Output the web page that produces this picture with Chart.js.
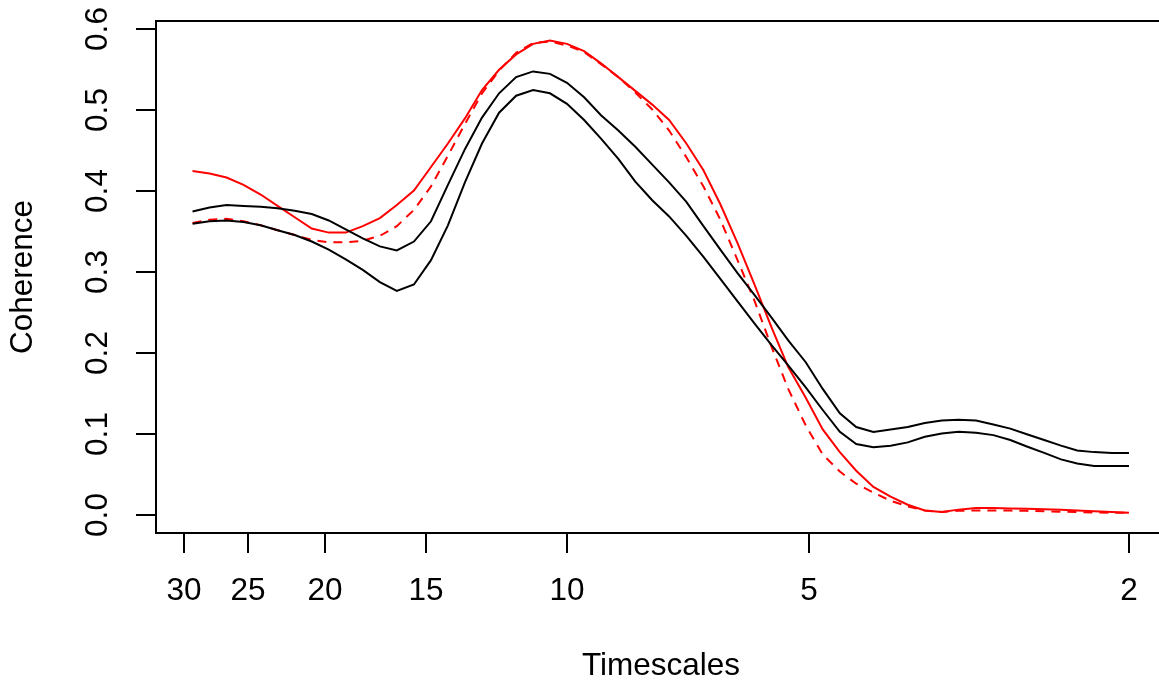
<!DOCTYPE html>
<html>
<head>
<meta charset="utf-8">
<script src="https://cdn.jsdelivr.net/npm/chart.js@4/dist/chart.umd.min.js"></script>
<style>
  html, body { margin: 0; padding: 0; background: #fff; overflow: hidden; width: 1159px; height: 682px; }
  #wrap { position: absolute; left: 0; top: 0; width: 1180px; height: 682px; }
</style>
</head>
<body>
<div id="wrap"><canvas id="c" width="1180" height="682" style="width:1180px;height:682px"></canvas></div>
<script>
// Timescales (left to right on the plot)
const timescales = [29.27, 27.88, 26.55, 25.29, 24.08, 22.94, 21.84, 20.80, 19.81, 18.87,
  17.97, 17.11, 16.30, 15.52, 14.78, 14.08, 13.41, 12.77, 12.16, 11.58,
  11.03, 10.51, 10.01, 9.53, 9.08, 8.64, 8.23, 7.84, 7.47, 7.11,
  6.77, 6.45, 6.14, 5.85, 5.57, 5.31, 5.05, 4.81, 4.58, 4.37,
  4.16, 3.96, 3.77, 3.59, 3.42, 3.26, 3.10, 2.95, 2.81, 2.68,
  2.55, 2.43, 2.32, 2.21, 2.10, 2.00];

const blackUpper = [0.375, 0.380, 0.383, 0.382, 0.381, 0.379, 0.376, 0.372, 0.364, 0.353,
  0.342, 0.332, 0.327, 0.338, 0.363, 0.408, 0.452, 0.491, 0.521, 0.541,
  0.548, 0.545, 0.534, 0.516, 0.494, 0.475, 0.455, 0.433, 0.411, 0.387,
  0.357, 0.328, 0.299, 0.272, 0.244, 0.216, 0.189, 0.156, 0.126, 0.109,
  0.103, 0.106, 0.109, 0.114, 0.117, 0.118, 0.117, 0.112, 0.107, 0.100,
  0.093, 0.086, 0.080, 0.078, 0.077, 0.077];

const blackLower = [0.360, 0.363, 0.364, 0.362, 0.358, 0.352, 0.346, 0.338, 0.328, 0.316,
  0.303, 0.288, 0.277, 0.285, 0.315, 0.358, 0.411, 0.459, 0.497, 0.518,
  0.525, 0.521, 0.508, 0.488, 0.465, 0.440, 0.412, 0.389, 0.369, 0.345,
  0.319, 0.292, 0.264, 0.237, 0.210, 0.185, 0.158, 0.130, 0.103, 0.088,
  0.084, 0.086, 0.090, 0.097, 0.101, 0.103, 0.102, 0.099, 0.093, 0.085,
  0.077, 0.069, 0.064, 0.061, 0.061, 0.061];

const redSolid = [0.425, 0.422, 0.417, 0.408, 0.396, 0.382, 0.368, 0.354, 0.349, 0.349,
  0.357, 0.367, 0.383, 0.401, 0.430, 0.459, 0.490, 0.525, 0.550, 0.569,
  0.582, 0.586, 0.582, 0.573, 0.558, 0.541, 0.524, 0.507, 0.488, 0.459,
  0.426, 0.384, 0.336, 0.285, 0.232, 0.183, 0.145, 0.106, 0.078, 0.055,
  0.035, 0.023, 0.013, 0.006, 0.004, 0.007, 0.009, 0.009, 0.0085, 0.008,
  0.0075, 0.0068, 0.006, 0.005, 0.0042, 0.003];

const redDashed = [0.361, 0.365, 0.366, 0.363, 0.358, 0.352, 0.346, 0.340, 0.337, 0.337,
  0.339, 0.345, 0.357, 0.377, 0.406, 0.444, 0.483, 0.521, 0.549, 0.571,
  0.583, 0.585, 0.580, 0.572, 0.557, 0.541, 0.522, 0.501, 0.475, 0.442,
  0.406, 0.365, 0.315, 0.265, 0.208, 0.156, 0.111, 0.075, 0.054, 0.039,
  0.028, 0.018, 0.011, 0.006, 0.004, 0.0055, 0.006, 0.006, 0.0058, 0.0055,
  0.005, 0.0045, 0.004, 0.0035, 0.0032, 0.003];

const xTicks = [30, 25, 20, 15, 10, 5, 2];
const yTicks = [0.0, 0.1, 0.2, 0.3, 0.4, 0.5, 0.6];
const yTickLabels = ["0.0", "0.1", "0.2", "0.3", "0.4", "0.5", "0.6"];
const xTitle = "Timescales";
const yTitle = "Coherence";

function pts(vals) { return vals.map((v, i) => ({ x: timescales[i], y: v })); }

const FONT = '31.5px "Liberation Sans", Arial, Helvetica, sans-serif';

const rAxes = {
  id: 'rAxes',
  afterDraw(chart) {
    const ctx = chart.ctx;
    const a = chart.chartArea;
    const xs = chart.scales.x, ys = chart.scales.y;
    ctx.save();
    ctx.strokeStyle = '#000';
    ctx.fillStyle = '#000';
    ctx.lineWidth = 2;
    // box
    ctx.strokeRect(a.left, a.top, a.right - a.left, a.bottom - a.top);
    ctx.font = FONT;
    // x ticks
    ctx.textAlign = 'center';
    ctx.textBaseline = 'middle';
    xTicks.forEach(t => {
      const px = Math.round(xs.getPixelForValue(t));
      ctx.beginPath();
      ctx.moveTo(px, a.bottom);
      ctx.lineTo(px, a.bottom + 20);
      ctx.stroke();
      ctx.fillText(String(t), px, a.bottom + 58);
    });
    // y ticks
    yTicks.forEach((t, i) => {
      const py = Math.round(ys.getPixelForValue(t));
      ctx.beginPath();
      ctx.moveTo(a.left, py);
      ctx.lineTo(a.left - 20, py);
      ctx.stroke();
      ctx.save();
      ctx.translate(a.left - 58, py);
      ctx.rotate(-Math.PI / 2);
      ctx.fillText(yTickLabels[i], 0, 0);
      ctx.restore();
    });
    // titles
    ctx.fillText(xTitle, (a.left + a.right) / 2, 666);
    ctx.save();
    ctx.translate(23, (a.top + a.bottom) / 2);
    ctx.rotate(-Math.PI / 2);
    ctx.fillText(yTitle, 0, 0);
    ctx.restore();
    ctx.restore();
  }
};

const common = { pointRadius: 0, borderWidth: 2, tension: 0, fill: false, showLine: true };

new Chart(document.getElementById('c'), {
  type: 'scatter',
  data: {
    datasets: [
      Object.assign({ data: pts(blackUpper), borderColor: '#000' }, common),
      Object.assign({ data: pts(blackLower), borderColor: '#000' }, common),
      Object.assign({ data: pts(redSolid), borderColor: '#ff0000' }, common),
      Object.assign({ data: pts(redDashed), borderColor: '#ff0000', borderDash: [9, 7] }, common)
    ]
  },
  options: {
    responsive: false,
    animation: false,
    devicePixelRatio: 1,
    layout: { padding: { left: 156, top: 21, right: 14, bottom: 149 } },
    plugins: { legend: { display: false }, tooltip: { enabled: false } },
    scales: {
      x: { type: 'logarithmic', reverse: true, min: 1.7987, max: 32.50, display: false },
      y: { type: 'linear', min: -0.02185, max: 0.61025, display: false }
    }
  },
  plugins: [rAxes]
});
</script>
</body>
</html>
